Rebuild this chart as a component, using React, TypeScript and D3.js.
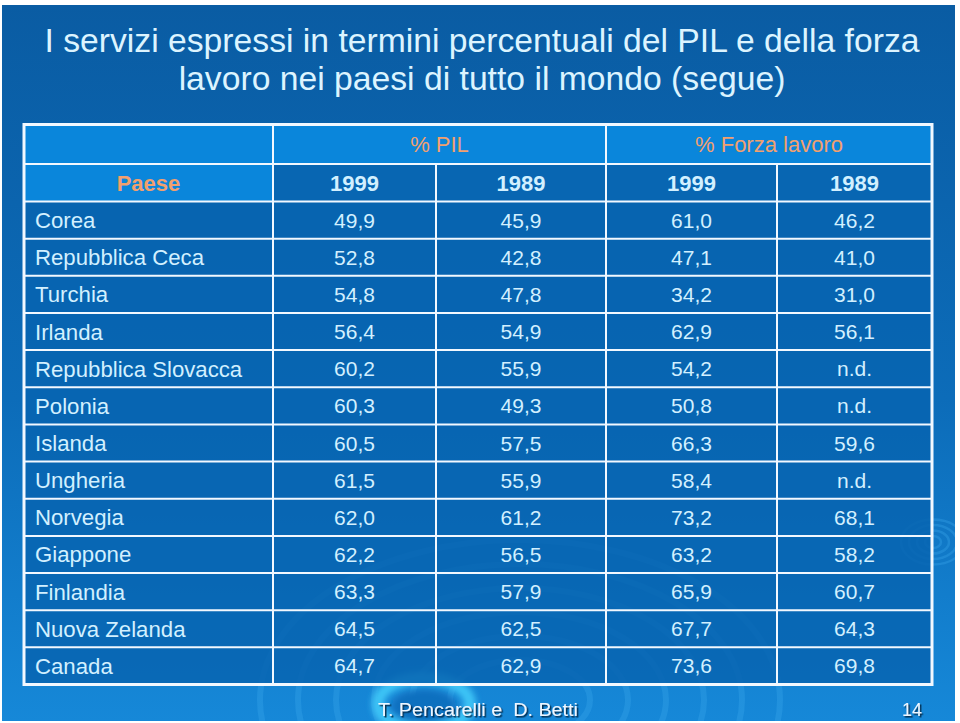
import React from "react";
import * as d3 from "d3";

const countries = [
  "Corea", "Repubblica Ceca", "Turchia", "Irlanda", "Repubblica Slovacca", "Polonia",
  "Islanda", "Ungheria", "Norvegia", "Giappone", "Finlandia", "Nuova Zelanda", "Canada",
];
const pil1999 = [49.9, 52.8, 54.8, 56.4, 60.2, 60.3, 60.5, 61.5, 62.0, 62.2, 63.3, 64.5, 64.7];
const pil1989 = [45.9, 42.8, 47.8, 54.9, 55.9, 49.3, 57.5, 55.9, 61.2, 56.5, 57.9, 62.5, 62.9];
const fl1999 = [61.0, 47.1, 34.2, 62.9, 54.2, 50.8, 66.3, 58.4, 73.2, 63.2, 65.9, 67.7, 73.6];
const fl1989: (number | null)[] = [46.2, 41.0, 31.0, 56.1, null, null, 59.6, null, 68.1, 58.2, 60.7, 64.3, 69.8];
const groupLabels = ["% PIL", "% Forza lavoro"];
const yearLabels = ["1999", "1989", "1999", "1989"];
const titleLines = [
  "I servizi espressi in termini percentuali del PIL e della forza",
  "lavoro nei paesi di tutto il mondo (segue)",
];
const footerText = "T. Pencarelli e  D. Betti";
const pageNumber = "14";

const W = 960;
const H = 723;
const colEdges = [24, 273, 436, 606, 777, 932];
const tableTop = 124.5;
const head1Bottom = 164;
const head2Bottom = 201.5;
const tableBottom = 684.5;
const FONT = "'Liberation Sans', Arial, sans-serif";
const textCol = "#d2f0ff";
const orange = "#f2a06e";

const fmt = (v: number | null) => (v == null ? "n.d." : d3.format(".1f")(v).replace(".", ","));

export default function App() {
  const y = d3.scaleBand<string>().domain(countries).range([head2Bottom, tableBottom]);
  const series = [pil1999, pil1989, fl1999, fl1989];
  const colCenter = (i: number) => (colEdges[i] + colEdges[i + 1]) / 2;

  const rings = d3.range(6).map((i) => ({ rx: 70 + i * 38, ry: 40 + i * 24 }));

  return (
    <svg width={W} height={H} style={{ position: "absolute", left: 0, top: 0 }} fontFamily={FONT}>
      <defs>
        <linearGradient id="bg" x1="0" y1="0" x2="0" y2="1">
          <stop offset="0" stopColor="#0a5ca3" />
          <stop offset="0.55" stopColor="#0c6cb9" />
          <stop offset="1" stopColor="#1688d8" />
        </linearGradient>
        <clipPath id="slide">
          <rect x={2} y={5} width={953} height={716} />
        </clipPath>
        <filter id="blur" x="-30%" y="-50%" width="160%" height="200%">
          <feGaussianBlur stdDeviation="3" />
        </filter>
        <filter id="shadow" x="-10%" y="-30%" width="120%" height="160%">
          <feDropShadow dx="1.5" dy="1.5" stdDeviation="0.6" floodColor="#002040" floodOpacity="0.9" />
        </filter>
      </defs>
      <rect x={0} y={0} width={W} height={H} fill="#ffffff" />
      <g clipPath="url(#slide)">
        <rect x={2} y={5} width={953} height={716} fill="url(#bg)" />
        <g fill="none" stroke="#3aa6ea" strokeOpacity={0.35}>
          {rings.map((r, i) => (
            <ellipse key={i} cx={520} cy={700} rx={r.rx} ry={r.ry} strokeWidth={6} />
          ))}
          {d3.range(4).map((i) => (
            <ellipse key={"s" + i} cx={933} cy={542} rx={8 + i * 8} ry={6 + i * 5.5} strokeWidth={2.5} />
          ))}
        </g>
        <g filter="url(#blur)">
          <ellipse cx={424} cy={704} rx={46} ry={26} fill="none" stroke="#3ec4f6" strokeWidth={12} />
          <ellipse cx={424} cy={706} rx={32} ry={16} fill="#0f6fbf" />
        </g>
      </g>

      {titleLines.map((t, i) => (
        <text key={i} x={482} y={52 + i * 38} textAnchor="middle" fontSize={33.7} fill="#dcf4ff">
          {t}
        </text>
      ))}

      <rect x={colEdges[0]} y={tableTop} width={colEdges[5] - colEdges[0]} height={head1Bottom - tableTop} fill="#0a86db" />
      <rect x={colEdges[0]} y={head1Bottom} width={colEdges[1] - colEdges[0]} height={head2Bottom - head1Bottom} fill="#0a86db" />
      <rect x={colEdges[1]} y={head1Bottom} width={colEdges[5] - colEdges[1]} height={head2Bottom - head1Bottom} fill="#0866b2" />
      <rect x={colEdges[0]} y={head2Bottom} width={colEdges[5] - colEdges[0]} height={tableBottom - head2Bottom} fill="#0764b0" opacity={0.85} />

      <g stroke="#f2f8ff" strokeWidth={2}>
        <line x1={colEdges[0]} x2={colEdges[5]} y1={head1Bottom} y2={head1Bottom} />
        <line x1={colEdges[0]} x2={colEdges[5]} y1={head2Bottom} y2={head2Bottom} />
        {countries.slice(1).map((c) => (
          <line key={c} x1={colEdges[0]} x2={colEdges[5]} y1={y(c)!} y2={y(c)!} />
        ))}
        <line x1={colEdges[1]} x2={colEdges[1]} y1={tableTop} y2={tableBottom} />
        <line x1={colEdges[3]} x2={colEdges[3]} y1={tableTop} y2={tableBottom} />
        <line x1={colEdges[2]} x2={colEdges[2]} y1={head1Bottom} y2={tableBottom} />
        <line x1={colEdges[4]} x2={colEdges[4]} y1={head1Bottom} y2={tableBottom} />
      </g>
      <rect x={colEdges[0]} y={tableTop} width={colEdges[5] - colEdges[0]} height={tableBottom - tableTop} fill="none" stroke="#f2f8ff" strokeWidth={3} />

      {groupLabels.map((g, i) => (
        <text key={g} x={(colEdges[1 + i * 2] + colEdges[3 + i * 2]) / 2} y={(tableTop + head1Bottom) / 2} dy="0.36em" textAnchor="middle" fontSize={22} fill={orange}>
          {g}
        </text>
      ))}
      <text x={colCenter(0)} y={(head1Bottom + head2Bottom) / 2} dy="0.36em" textAnchor="middle" fontSize={22} fontWeight="bold" fill={orange}>
        Paese
      </text>
      {yearLabels.map((yl, i) => (
        <text key={i} x={colCenter(i + 1)} y={(head1Bottom + head2Bottom) / 2} dy="0.36em" textAnchor="middle" fontSize={22} fontWeight="bold" fill={textCol}>
          {yl}
        </text>
      ))}

      {countries.map((c, r) => {
        const cy = y(c)! + y.bandwidth() / 2;
        return (
          <g key={c}>
            <text x={35} y={cy} dy="0.36em" fontSize={22.2} fill={textCol}>{c}</text>
            {series.map((s, j) => (
              <text key={j} x={colCenter(j + 1)} y={cy} dy="0.36em" textAnchor="middle" fontSize={21} fill={textCol}>
                {fmt(s[r])}
              </text>
            ))}
          </g>
        );
      })}

      <g filter="url(#shadow)" fill="#eef6ff" fontSize={18}>
        <text x={378} y={716} xmlSpace="preserve" style={{ whiteSpace: "pre" }} textLength={200} lengthAdjust="spacingAndGlyphs">{footerText}</text>
        <text x={922} y={716} textAnchor="end">{pageNumber}</text>
      </g>
    </svg>
  );
}
